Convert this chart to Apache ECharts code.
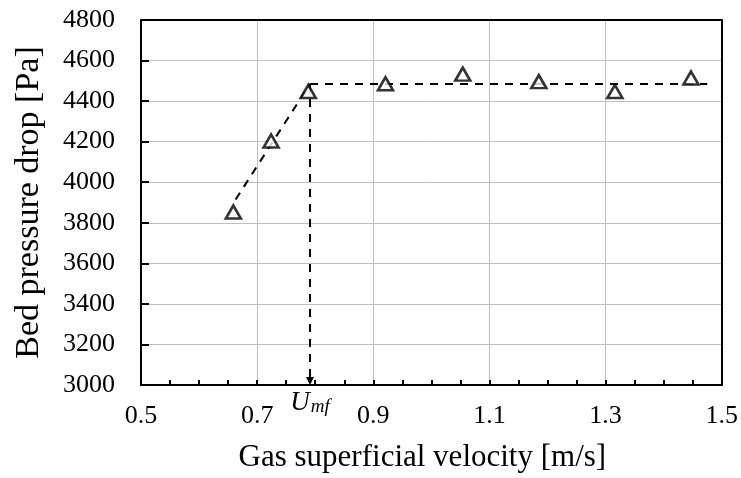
<!DOCTYPE html>
<html>
<head>
<meta charset="utf-8">
<script src="https://cdn.jsdelivr.net/npm/echarts@6/dist/echarts.min.js"></script>
<style>html,body{margin:0;padding:0;background:#fff}#c{width:741px;height:478px}</style>
</head>
<body>
<div id="c"></div>
<script>
// Measured points (gas superficial velocity [m/s], bed pressure drop [Pa])
const velocity = [0.659, 0.724, 0.788, 0.921, 1.054, 1.185, 1.316, 1.447];
const pressure = [3853, 4203, 4447, 4486, 4533, 4496, 4447, 4514];
// Dashed fit lines
const riseX = [0.663, 0.791];
const riseY = [3915, 4485];
const plateauX = [0.791, 1.475];
const plateauY = [4485, 4485];
const umf = 0.791;
const umfLineY = [4485, 3000];
// Axis settings
const xMin = 0.5, xMax = 1.5, xStep = 0.2;
const yMin = 3000, yMax = 4800, yStep = 200;

const serif = 'Liberation Serif';
const chart = echarts.init(document.getElementById('c'), null, {renderer: 'canvas'});
const dash = {color: '#000', width: 2, type: [8, 7]};
const frame = {show: true, lineStyle: {color: '#000', width: 2}};

chart.setOption({
  animation: false,
  grid: {left: 141, right: 19, top: 20, bottom: 91},
  xAxis: [{
    type: 'value', min: xMin, max: xMax, interval: xStep,
    name: 'Gas superficial velocity [m/s]', nameLocation: 'middle', nameGap: 57,
    nameTextStyle: {fontFamily: serif, fontSize: 31, color: '#000', padding: [0, 18, 0, 0]},
    axisLine: {show: true, onZero: false, lineStyle: {color: '#000', width: 2}},
    axisTick: {show: true, inside: true, length: 5, lineStyle: {color: '#000', width: 2}},
    minorTick: {show: true, splitNumber: 4, length: 5, lineStyle: {color: '#000', width: 2}},
    axisLabel: {fontFamily: serif, fontSize: 26, color: '#000', margin: 18, formatter: v => v.toFixed(1)},
    splitLine: {show: true, lineStyle: {color: '#bfbfbf', width: 1}}
  }, {
    type: 'value', position: 'top', min: xMin, max: xMax, interval: xStep,
    axisLine: {show: true, onZero: false, lineStyle: {color: '#000', width: 2}},
    axisTick: {show: false}, axisLabel: {show: false}, splitLine: {show: false}
  }],
  yAxis: [{
    type: 'value', min: yMin, max: yMax, interval: yStep,
    name: 'Bed pressure drop [Pa]', nameLocation: 'middle', nameGap: 95,
    nameTextStyle: {fontFamily: serif, fontSize: 34, color: '#000'},
    axisLine: {show: true, onZero: false, lineStyle: {color: '#000', width: 2}},
    axisTick: {show: true, inside: true, length: 8, lineStyle: {color: '#000', width: 2}},
    axisLabel: {fontFamily: serif, fontSize: 26, color: '#000', margin: 26, formatter: v => String(v)},
    splitLine: {show: true, lineStyle: {color: '#bfbfbf', width: 1}}
  }, {
    type: 'value', position: 'right', min: yMin, max: yMax, interval: yStep,
    axisLine: {show: true, onZero: false, lineStyle: {color: '#000', width: 2}},
    axisTick: {show: false}, axisLabel: {show: false}, splitLine: {show: false}
  }],
  series: [
    {type: 'line', data: riseX.map((x, i) => [x, riseY[i]]), symbol: 'none', lineStyle: dash, z: 2},
    {type: 'line', data: plateauX.map((x, i) => [x, plateauY[i]]), symbol: 'none', lineStyle: dash, z: 2},
    {type: 'line', z: 2, lineStyle: dash,
     data: [
       {value: [umf, umfLineY[0]], symbol: 'none'},
       {value: [umf, umfLineY[1]], symbol: 'triangle', symbolSize: [8, 8], symbolRotate: 180, symbolOffset: [0, -4],
        itemStyle: {color: '#000', borderWidth: 0}}
     ],
     markPoint: {
       symbol: 'circle', symbolSize: 0, silent: true,
       data: [{coord: [umf, yMin],
         label: {show: true, position: 'bottom', distance: 2, formatter: '{u|U}{s|mf}',
           rich: {u: {fontFamily: serif, fontStyle: 'italic', fontSize: 27, color: '#000', verticalAlign: 'bottom'},
                  s: {fontFamily: serif, fontStyle: 'italic', fontSize: 19, color: '#000', padding: [10, 0, 0, 1]}}}}]
     }
    },
    {type: 'scatter', data: velocity.map((x, i) => [x, pressure[i]]), symbol: 'triangle', symbolSize: [15, 13],
     itemStyle: {color: '#fff', borderColor: '#000', borderWidth: 2.6}, z: 5}
  ]
});
</script>
</body>
</html>
